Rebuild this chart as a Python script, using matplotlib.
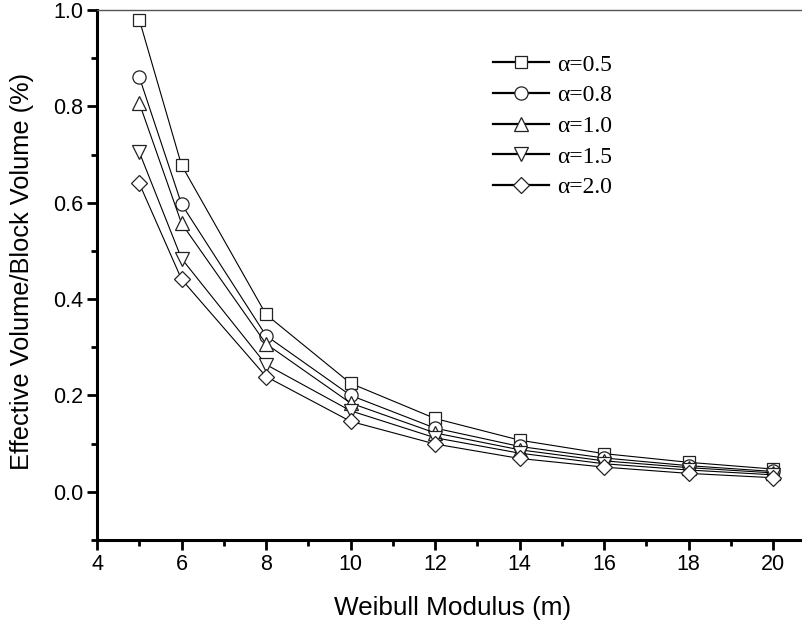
import matplotlib
matplotlib.use("Agg")
import matplotlib.pyplot as plt
from matplotlib.ticker import MultipleLocator, FormatStrFormatter

m = [5, 6, 8, 10, 12, 14, 16, 18, 20]
labels = ["α=0.5", "α=0.8", "α=1.0", "α=1.5", "α=2.0"]
a05 = [0.980, 0.678, 0.368, 0.225, 0.152, 0.107, 0.079, 0.061, 0.047]
a08 = [0.861, 0.597, 0.324, 0.200, 0.132, 0.094, 0.070, 0.054, 0.042]
a10 = [0.807, 0.557, 0.307, 0.184, 0.122, 0.087, 0.064, 0.050, 0.039]
a15 = [0.705, 0.484, 0.264, 0.168, 0.112, 0.080, 0.058, 0.045, 0.035]
a20 = [0.640, 0.441, 0.239, 0.146, 0.099, 0.069, 0.051, 0.038, 0.029]
series = [a05, a08, a10, a15, a20]
markers = ["s", "o", "^", "v", "D"]
msizes = [9, 9.5, 10, 10, 8.5]

plt.rcParams['font.family'] = ['Liberation Sans', 'DejaVu Sans']

fig = plt.figure(figsize=(8.02, 6.27), dpi=100)
ax = fig.add_axes([0.121, 0.139, 0.885, 0.845])

handles = []
for ys, mk, ms, lab in zip(series, markers, msizes, labels):
    h, = ax.plot(m, ys, color='black', lw=0.8, marker=mk, ms=ms,
                 markerfacecolor='white', markeredgecolor='#222222',
                 markeredgewidth=0.9, label=lab)
    handles.append(h)

ax.set_xlim(4, 20.8)
ax.set_ylim(-0.1, 1.0)
ax.xaxis.set_major_locator(MultipleLocator(2))
ax.xaxis.set_minor_locator(MultipleLocator(1))
ax.yaxis.set_major_locator(MultipleLocator(0.2))
ax.yaxis.set_minor_locator(MultipleLocator(0.1))
ax.yaxis.set_major_formatter(FormatStrFormatter('%.1f'))

for s in ['left', 'bottom']:
    ax.spines[s].set_linewidth(2.2)
    ax.spines[s].set_color('black')
ax.spines['right'].set_visible(False)
ax.spines['top'].set_linewidth(1.0)
ax.spines['top'].set_color('#555555')

ax.tick_params(which='major', direction='out', length=7, width=2, labelsize=15.5, pad=3)
ax.tick_params(which='minor', direction='out', length=4, width=2)
ax.tick_params(axis='both', which='both', top=False, right=False)

ax.set_xlabel('Weibull Modulus (m)', fontsize=18.8)
ax.set_ylabel('Effective Volume/Block Volume (%)', fontsize=18.3)
ax.xaxis.set_label_coords(0.501, -0.106)
ax.yaxis.set_label_coords(-0.089, 0.506)

leg = ax.legend(handles=handles, loc='upper left', bbox_to_anchor=(0.558, 0.917),
                frameon=False, prop={'family': 'Liberation Serif', 'size': 17},
                handlelength=2.35, handletextpad=0.38, labelspacing=0.39,
                borderaxespad=0, borderpad=0)
for lh in leg.get_lines():
    lh.set_linewidth(1.6)

fig.savefig('out.png', dpi=100)
